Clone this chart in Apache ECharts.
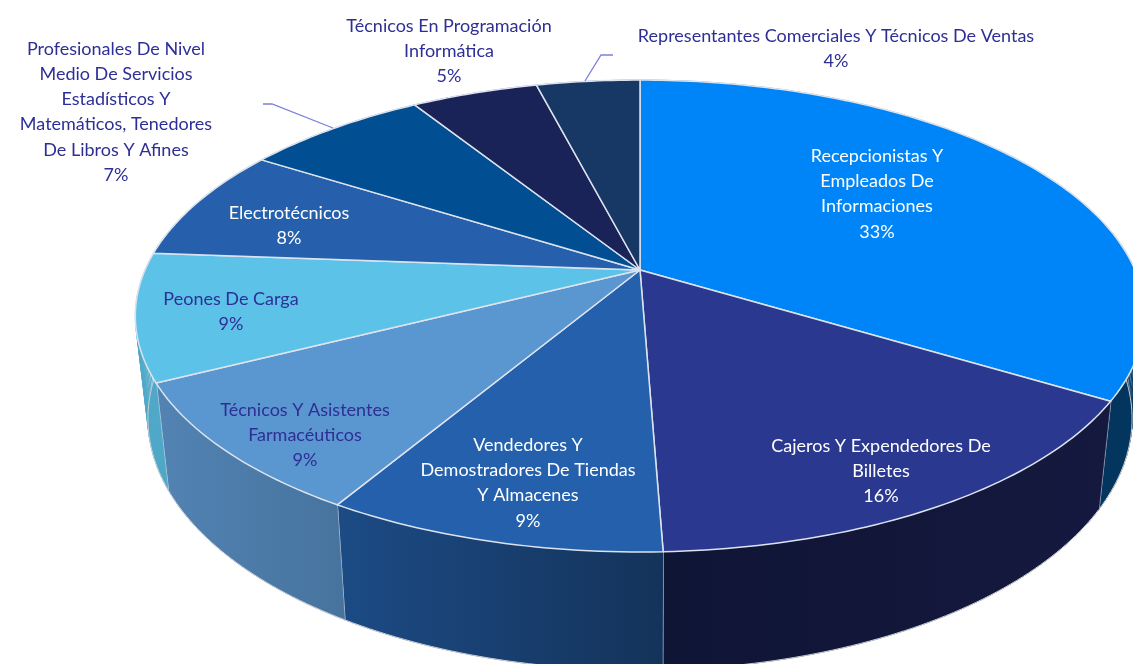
<!DOCTYPE html>
<html><head><meta charset="utf-8">
<style>html,body{margin:0;padding:0;background:#fff}#c{width:1133px;height:664px}</style>
<script src="https://cdn.jsdelivr.net/npm/echarts@6/dist/echarts.min.js"></script>
</head><body><div id="c"></div>
<script>
const categories = [
  'Recepcionistas Y\nEmpleados De\nInformaciones',
  'Cajeros Y Expendedores De\nBilletes',
  'Vendedores Y\nDemostradores De Tiendas\nY Almacenes',
  'Técnicos Y Asistentes\nFarmacéuticos',
  'Peones De Carga',
  'Electrotécnicos',
  'Profesionales De Nivel\nMedio De Servicios\nEstadísticos Y\nMatemáticos, Tenedores\nDe Libros Y Afines',
  'Técnicos En Programación\nInformática',
  'Representantes Comerciales Y Técnicos De Ventas'
];
const percentLabels = [33, 16, 9, 9, 9, 8, 7, 5, 4];
const shares = [33.7, 15.7, 9.1, 9.0, 8.7, 7.8, 7.1, 4.9, 4.0];
const topColors = ['#0085F8', '#2A398F', '#2460AC', '#5A96D0', '#5CC2E8', '#2660AC', '#024E92', '#1A2358', '#173865'];
const wallColors = [['#03365F', '#03335C'], ['#15193F', '#0F1535'], ['#14335A', '#1C4B85'], ['#47749F', '#5283B3'], ['#4FA8C8', '#4FA8C8'], ['#1D4C88', '#1D4C88'], ['#023E74', '#023E74'], ['#141B45', '#141B45'], ['#122C50', '#122C50']];
const labelColors = ['#fff', '#fff', '#fff', '#2E2F96', '#2E2F96', '#fff', '#2E2F96', '#2E2F96', '#2E2F96'];
const labelAnchors = [[877, 194], [881, 471], [528, 483], [305, 435], [231, 312], [289, 226], [116, 112], [449, 51], [836, 49]];
const leaders = {6: [[263, 104], [272, 104], [333, 128]], 8: [[613, 55], [601, 55], [585, 81]]};

// Perspective projection of the pie disc
const apex = [640, 270], B = 495, A = 227, K = 0.195;
function topPt(t) {
  const s = Math.sin(t), c = Math.cos(t), w = 1 + K * c;
  return [apex[0] + B * s / w, apex[1] - A * c / w];
}
function botPt(t) {
  const p = topPt(t);
  return [apex[0] + 0.975 * (p[0] - apex[0]), 490 + 1.066 * (p[1] - 383)];
}
const total = shares.reduce((a, b) => a + b, 0);
let acc = 0;
const rows = shares.map((v, i) => { const r = [v, acc, i]; acc += v; return r; });
const ang = pct => pct / total * Math.PI * 2;
const STEP = Math.PI / 180;
function sweep(start, value) {
  const a0 = ang(start), a1 = ang(start + value), n = Math.max(2, Math.ceil((a1 - a0) / STEP)), out = [];
  for (let i = 0; i <= n; i++) out.push(a0 + (a1 - a0) * i / n);
  return out;
}
const fmt = p => p[0].toFixed(2) + ' ' + p[1].toFixed(2);

function renderWall(params, api) {
  const i = api.value(2), th = sweep(api.value(1), api.value(0));
  let d = '';
  for (let k = 0; k < th.length - 1; k++) {
    const a = th[k], b = th[k + 1];
    d += 'M' + fmt(topPt(a)) + 'L' + fmt(topPt(b)) + 'L' + fmt(botPt(b)) + 'L' + fmt(botPt(a)) + 'Z';
  }
  const xs = th.map(t => topPt(t)[0]);
  const grad = {type: 'linear', global: true, x: Math.min(...xs), y: 0, x2: Math.max(...xs), y2: 0,
    colorStops: [{offset: 0, color: wallColors[i][1]}, {offset: 1, color: wallColors[i][0]}]};
  const kids = [{type: 'path', shape: {pathData: d}, style: {fill: grad, stroke: grad, lineWidth: 0.6}}];
  const pts = th.map(botPt);
  kids.push({type: 'polyline', shape: {points: pts}, style: {fill: null, stroke: '#C9CED6', lineWidth: 1}});
  const end = th[th.length - 1];
  kids.push({type: 'line', shape: {x1: topPt(end)[0], y1: topPt(end)[1], x2: botPt(end)[0], y2: botPt(end)[1]},
    style: {stroke: '#D5DDE8', lineWidth: 1.6}});
  return {type: 'group', children: kids};
}
function renderTop(params, api) {
  const i = api.value(2), th = sweep(api.value(1), api.value(0));
  const pts = [apex].concat(th.map(topPt));
  return {type: 'polygon', shape: {points: pts}, style: {fill: topColors[i], stroke: '#DDE3EE', lineWidth: 1.5, lineJoin: 'round'}};
}
function renderLabel(params, api) {
  const i = api.value(2), kids = [];
  if (leaders[i]) kids.push({type: 'polyline', shape: {points: leaders[i]}, style: {fill: null, stroke: '#7C7FDC', lineWidth: 1.3}});
  kids.push({type: 'text', style: {
    text: categories[i] + '\n' + percentLabels[i] + '%', x: labelAnchors[i][0], y: labelAnchors[i][1],
    align: 'center', verticalAlign: 'middle', fill: labelColors[i],
    fontFamily: 'Lato', fontSize: 18, lineHeight: 25.3}});
  return {type: 'group', children: kids};
}
const chart = echarts.init(document.getElementById('c'), null, {renderer: 'canvas'});
chart.setOption({
  animation: false, backgroundColor: '#fff',
  series: [
    {type: 'custom', coordinateSystem: 'none', renderItem: renderWall, data: rows, silent: true, z: 1},
    {type: 'custom', coordinateSystem: 'none', renderItem: renderTop, data: rows, silent: true, z: 2},
    {type: 'custom', coordinateSystem: 'none', renderItem: renderLabel, data: rows, silent: true, z: 3}
  ]
});
</script></body></html>
